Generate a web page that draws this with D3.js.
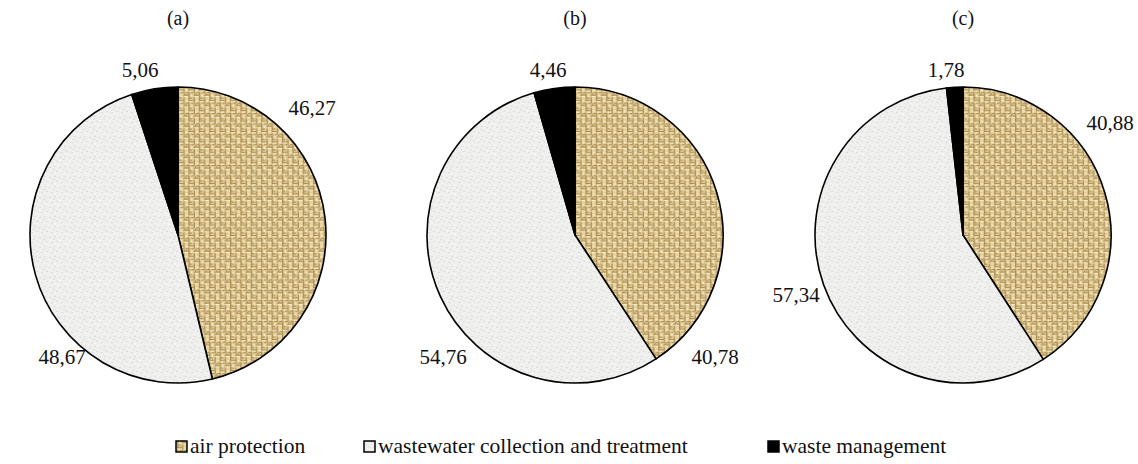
<!DOCTYPE html>
<html><head><meta charset="utf-8">
<script src="https://cdn.jsdelivr.net/npm/d3@7"></script>
<style>body{margin:0;background:#fff}svg{display:block}</style>
</head><body><svg id="c" width="1138" height="464"></svg>
<script>
const categories = ["air protection", "wastewater collection and treatment", "waste management"];
const panels = ["(a)", "(b)", "(c)"];
const valuesA = [46.27, 48.67, 5.06];
const valuesB = [40.78, 54.76, 4.46];
const valuesC = [40.88, 57.34, 1.78];
const seriesValues = [valuesA, valuesB, valuesC];
const labelsA = ["46,27", "48,67", "5,06"];
const labelsB = ["40,78", "54,76", "4,46"];
const labelsC = ["40,88", "57,34", "1,78"];
const seriesLabels = [labelsA, labelsB, labelsC];

// layout (not data)
const FONT = "'Liberation Serif', 'Times New Roman', Times, serif";
const centersX = [178, 575, 963], cy = 235, R = 148;
const labelPos = [
  [[312,108],[62,357],[140,70]],
  [[715,357],[443,357],[548,70]],
  [[1110,123],[796,295],[946,70]]
];

const svg = d3.select("#c");
const defs = svg.append("defs");
const pw = defs.append("pattern").attr("id","weave").attr("patternUnits","userSpaceOnUse")
  .attr("width",8).attr("height",8).attr("patternTransform","scale(1.3)");
pw.append("rect").attr("width",8).attr("height",8).attr("fill","#e4d09c");
const wv = [[0,0,4,1],[4,4,4,1],[0,2,1,3],[4,6,1,2],[4,0,1,3],[0,5,1,3],[2,2,2,1],[6,2,2,1],[1,6,2,1],[5,3,1,1]];
wv.forEach(r=>pw.append("rect").attr("x",r[0]).attr("y",r[1]).attr("width",r[2]).attr("height",r[3]).attr("fill","#9c7c40").attr("opacity",0.8));
pw.append("rect").attr("x",1).attr("y",1).attr("width",3).attr("height",1).attr("fill","#f6ecc6");
pw.append("rect").attr("x",5).attr("y",5).attr("width",3).attr("height",1).attr("fill","#f6ecc6");
pw.append("rect").attr("x",2).attr("y",4).attr("width",1).attr("height",2).attr("fill","#f6ecc6");
pw.append("rect").attr("x",6).attr("y",0).attr("width",1).attr("height",2).attr("fill","#f6ecc6");
const pg = defs.append("pattern").attr("id","speck").attr("patternUnits","userSpaceOnUse").attr("width",10).attr("height",10);
pg.append("rect").attr("width",10).attr("height",10).attr("fill","#efefed");
[[1,2],[6,1],[3,7],[8,6],[5,4]].forEach(p=>pg.append("rect").attr("x",p[0]).attr("y",p[1]).attr("width",2).attr("height",1).attr("fill","#dededb"));
[[2,5],[7,8],[0,9]].forEach(p=>pg.append("rect").attr("x",p[0]).attr("y",p[1]).attr("width",1).attr("height",1).attr("fill","#fafafa"));

const fills = ["url(#weave)", "url(#speck)", "#000"];
const color = d3.scaleOrdinal().domain(categories).range(fills);

const pie = d3.pie().sort(null).value(d=>d.v);
const arc = d3.arc().innerRadius(0).outerRadius(R);

seriesValues.forEach((vals, i) => {
  const g = svg.append("g").attr("transform", `translate(${centersX[i]},${cy})`);
  const data = vals.map((v,j)=>({cat:categories[j], v}));
  g.selectAll("path").data(pie(data)).join("path")
    .attr("d", arc).attr("fill", d=>color(d.data.cat))
    .attr("stroke","#000").attr("stroke-width",1.6).attr("stroke-linejoin","round");
  svg.append("text").attr("x", centersX[i]).attr("y", 25).attr("text-anchor","middle")
    .style("font-family",FONT).attr("font-size",20).attr("fill","#111").text(panels[i]);
  seriesLabels[i].forEach((t,j)=>{
    svg.append("text").attr("x", labelPos[i][j][0]).attr("y", labelPos[i][j][1]+7)
      .attr("text-anchor","middle").style("font-family",FONT).attr("font-size",21).attr("fill","#111").text(t);
  });
});

const legX = [176, 364, 768];
categories.forEach((c,j)=>{
  svg.append("rect").attr("x",legX[j]).attr("y",441).attr("width",11).attr("height",11)
    .attr("fill",color(c)).attr("stroke","#000").attr("stroke-width",1.5);
  svg.append("text").attr("x",legX[j]+14).attr("y",453).style("font-family",FONT).attr("font-size",21.5).attr("fill","#111").text(c);
});
</script></body></html>
